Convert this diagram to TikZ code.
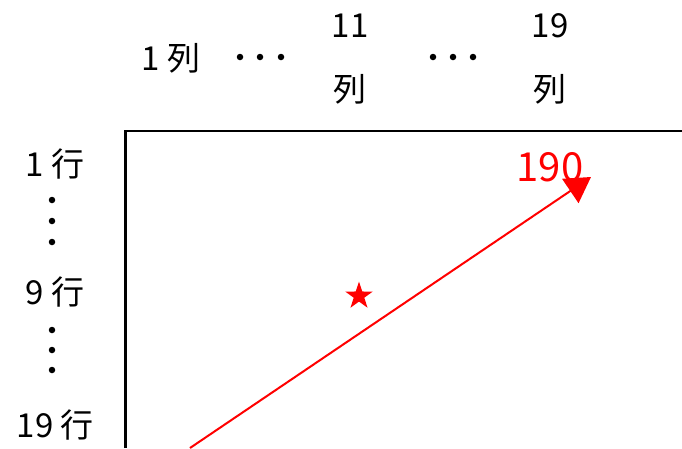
\documentclass[tikz,border=0pt]{standalone}
\usepackage{fontspec}
\newfontfamily\jp{Noto Sans CJK JP}
\usetikzlibrary{arrows.meta,shapes.geometric}
\begin{document}
\begin{tikzpicture}[x=1pt,y=-1pt,
  lbl/.style={inner sep=0pt,font=\jp\fontsize{33}{35}\selectfont},
  dotmark/.style={circle,fill=black,inner sep=0pt,minimum size=6.5pt},
  redlbl/.style={inner sep=0pt,text=red,font=\jp\fontsize{40}{42}\selectfont}]
\useasboundingbox (0,0) rectangle (682,448);
% column labels
\node[lbl] (c1) at (171,58) {1\hspace{7pt}列};
\node[dotmark] (d1a) at (240,57) {};
\node[dotmark] (d1b) at (260,57) {};
\node[dotmark] (d1c) at (281,57) {};
\node[lbl] (c11) at (350,26) {11};
\node[lbl] (c11b) at (350,89) {列};
\node[dotmark] (d2a) at (433,57) {};
\node[dotmark] (d2b) at (453,57) {};
\node[dotmark] (d2c) at (473,57) {};
\node[lbl] (c19) at (550,26) {19};
\node[lbl] (c19b) at (550,89) {列};
% row labels
\node[lbl] (r1) at (55,164) {1\hspace{7pt}行};
\node[dotmark] (e1a) at (52,200) {};
\node[dotmark] (e1b) at (52,221) {};
\node[dotmark] (e1c) at (52,242) {};
\node[lbl] (r9) at (55,292) {9\hspace{7pt}行};
\node[dotmark] (e2a) at (52,330) {};
\node[dotmark] (e2b) at (52,350) {};
\node[dotmark] (e2c) at (52,370) {};
\node[lbl] (r19) at (55,425) {19\hspace{7pt}行};
% frame
\coordinate (fb) at (125.5,448);
\coordinate (fc) at (125.5,131);
\coordinate (fr) at (682,131);
\draw[line width=2.2pt] (fb) -- (fc) -- (fr);
% star
\node[star,star points=5,star point ratio=2.6,fill=red,inner sep=0pt,minimum size=29pt] (st) at (359,296) {};
% arrow
\coordinate (as) at (190,448);
\coordinate (ae) at (591,177);
\draw[red,line width=2pt,-{Triangle[length=25pt,width=29pt]}] (as) -- (ae);
\node[redlbl] (v) at (550,167) {190};
\end{tikzpicture}
\end{document}
